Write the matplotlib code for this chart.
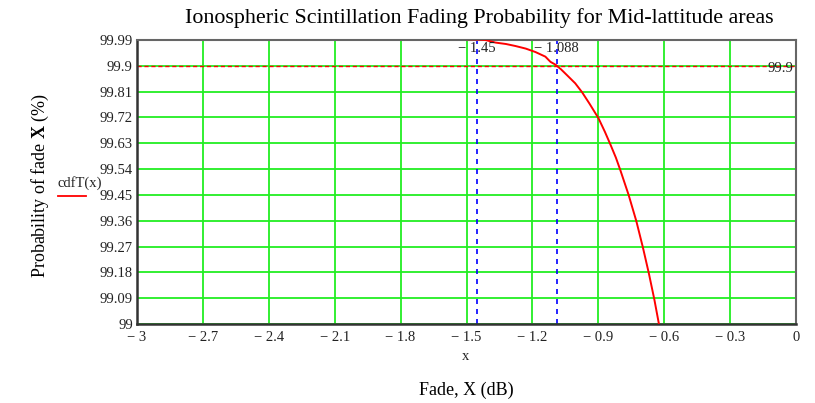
import matplotlib
matplotlib.use("Agg")
import matplotlib.pyplot as plt

# Data
curve_x = [-1.52, -1.50, -1.45, -1.414, -1.368, -1.320, -1.277, -1.230, -1.186, -1.141, -1.118,
           -1.095, -1.070, -1.042, -1.005, -0.974, -0.940, -0.899, -0.870, -0.845, -0.820,
           -0.800, -0.762, -0.727, -0.697, -0.670, -0.645, -0.624]
curve_y = [99.995, 99.993, 99.992, 99.990, 99.981, 99.976, 99.969, 99.960, 99.948, 99.932, 99.914,
           99.904, 99.888, 99.867, 99.839, 99.808, 99.768, 99.717, 99.670, 99.626, 99.580,
           99.537, 99.450, 99.359, 99.267, 99.177, 99.086, 99.000]
x_ticks = [-3, -2.7, -2.4, -2.1, -1.8, -1.5, -1.2, -0.9, -0.6, -0.3, 0]
x_tick_labels = ["\u2212 3", "\u2212 2.7", "\u2212 2.4", "\u2212 2.1", "\u2212 1.8", "\u2212 1.5",
                 "\u2212 1.2", "\u2212 0.9", "\u2212 0.6", "\u2212 0.3", "0"]
y_ticks = [99, 99.09, 99.18, 99.27, 99.36, 99.45, 99.54, 99.63, 99.72, 99.81, 99.9, 99.99]
y_tick_labels = ["99", "99.09", "99.18", "99.27", "99.36", "99.45", "99.54", "99.63",
                 "99.72", "99.81", "99.9", "99.99"]
marker_x = [-1.45, -1.088]
marker_labels = ["\u2212 1.45", "\u2212 1.088"]
threshold = 99.9
threshold_label = "99.9"

plt.rcParams['font.family'] = ['Liberation Serif', 'DejaVu Serif']
plt.rcParams['mathtext.fontset'] = 'custom'
plt.rcParams['mathtext.rm'] = 'Liberation Serif'
plt.rcParams['mathtext.bf'] = 'Liberation Serif:bold'

fig = plt.figure(figsize=(8.15, 4.03), dpi=100)
ax = fig.add_axes([137/815, 1-324/403, (796-137)/815, (324-40)/403])

ax.set_xlim(-3, 0)
ax.set_ylim(99, 99.99)
ax.set_xticks(x_ticks)
ax.set_xticklabels(x_tick_labels)
ax.set_yticks(y_ticks)
ax.set_yticklabels(y_tick_labels)
ax.tick_params(axis='x', length=0, labelsize=10.5, colors='#222222', pad=5)
ax.tick_params(axis='y', length=0, labelsize=10.5, colors='#222222', pad=3)

ax.grid(True, color='#22ee22', linewidth=1.3, zorder=0)
ax.set_axisbelow(True)

ax.axhline(threshold, color='red', linestyle=(0, (3, 2)), linewidth=1.0, zorder=2)
for mx in marker_x:
    ax.axvline(mx, color='blue', linestyle=(0, (3, 3)), linewidth=1.2, zorder=2)

ax.plot(curve_x, curve_y, color='red', linewidth=1.4, zorder=3, clip_on=True,
        solid_joinstyle='round')

for mx, lab in zip(marker_x, marker_labels):
    ax.text(mx - 0.005, 99.962, lab, ha='center', va='center', fontsize=10.5,
            color='#222222', zorder=4)
ax.text(-0.01, 99.892, threshold_label, ha='right', va='center', fontsize=10.5,
        color='#222222', zorder=4)

for side in ['left', 'bottom']:
    ax.spines[side].set_color('#333333')
    ax.spines[side].set_linewidth(1.8)
for side in ['top', 'right']:
    ax.spines[side].set_color('#666666')
    ax.spines[side].set_linewidth(1.5)

fig.text(479/815, 1-18/403, "Ionospheric Scintillation Fading Probability for Mid-lattitude areas",
         ha='center', va='center', fontsize=15.8, color='black')
fig.text(466/815, 1-357/403, "x", ha='center', va='center', fontsize=10.5, color='#222222')
fig.text(466/815, 1-390/403, "Fade, X (dB)", ha='center', va='center', fontsize=13, color='black')
fig.text(40/815, 1-185/403, r"Probability of fade $\mathbf{X}$ (%)", rotation=90, ha='center',
         va='center', fontsize=13, color='black')

# legend entry
fig.text(80/815, 1-183/403, "cdfT(x)", ha='center', va='center', fontsize=10.5, color='#222222')
fig.lines.append(plt.Line2D([58/815, 86/815], [1-196/403, 1-196/403], color='red',
                            linewidth=1.3, transform=fig.transFigure))

fig.savefig("out.png", dpi=100)
